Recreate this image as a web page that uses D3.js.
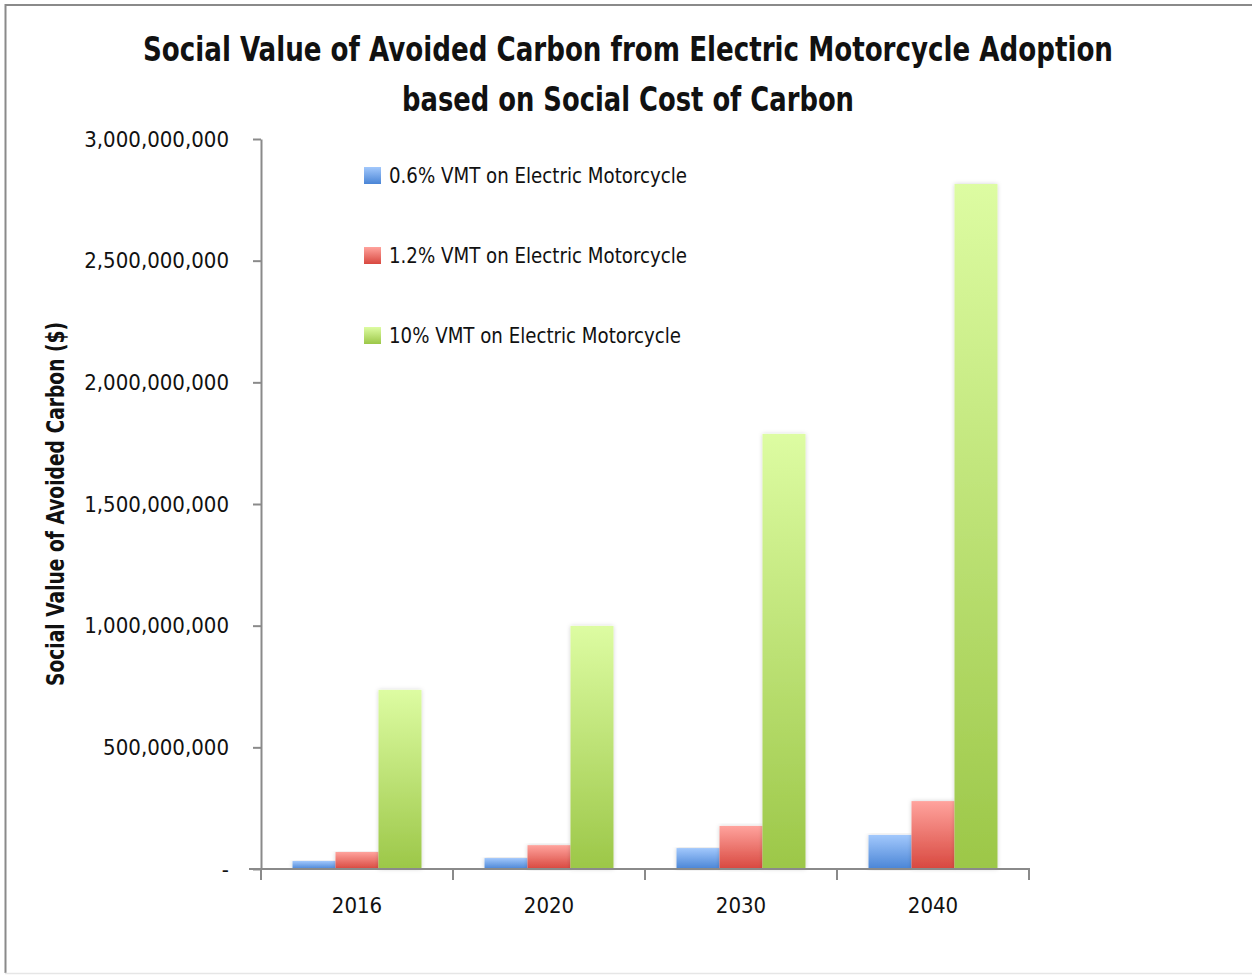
<!DOCTYPE html>
<html>
<head>
<meta charset="utf-8">
<script src="https://cdn.jsdelivr.net/npm/d3@7"></script>
<style>
  body { margin: 0; background: #fff; }
  text { font-family: "Liberation Sans Narrow", "DejaVu Sans Condensed", "Roboto", sans-serif; fill: #111; }
</style>
</head>
<body>
<script>
var width = 1252, height = 975;

var years = ["2016", "2020", "2030", "2040"];
var seriesNames = ["0.6% VMT on Electric Motorcycle", "1.2% VMT on Electric Motorcycle", "10% VMT on Electric Motorcycle"];
var low = [33000000, 45000000, 86000000, 140000000];
var mid = [70000000, 98000000, 177000000, 279000000];
var high = [736000000, 999000000, 1788000000, 2815000000];
var yTicks = [0, 500000000, 1000000000, 1500000000, 2000000000, 2500000000, 3000000000];

var seriesValues = [low, mid, high];
var colorsTop = ["#a2c8fc", "#ffa39d", "#ddfca2"];
var colorsBottom = ["#4a85d6", "#d8483f", "#9cc748"];
var legendWidths = [298, 298, 292];

var svg = d3.select("body").append("svg")
    .attr("width", width)
    .attr("height", height);

// outer frame
svg.append("path")
    .attr("d", "M1252,5 H5.5 V973")
    .attr("fill", "none")
    .attr("stroke", "#8a8a8a")
    .attr("stroke-width", 2);
svg.append("line")
    .attr("x1", 5).attr("x2", 1252).attr("y1", 973.5).attr("y2", 973.5)
    .attr("stroke", "#e6e6e6").attr("stroke-width", 1.5);

var defs = svg.append("defs");
seriesNames.forEach(function(s, i) {
    var grad = defs.append("linearGradient")
        .attr("id", "grad" + i)
        .attr("x1", 0).attr("x2", 0).attr("y1", 0).attr("y2", 1);
    grad.append("stop").attr("offset", "0%").attr("stop-color", colorsTop[i]);
    grad.append("stop").attr("offset", "100%").attr("stop-color", colorsBottom[i]);
});
var shadow = defs.append("filter").attr("id", "shadow")
    .attr("x", "-20%").attr("y", "-5%").attr("width", "140%").attr("height", "110%");
shadow.append("feDropShadow")
    .attr("dx", 0).attr("dy", 0).attr("stdDeviation", 2)
    .attr("flood-color", "#000").attr("flood-opacity", 0.18);

var margin = {left: 261, right: 1029, top: 139, bottom: 869};

var y = d3.scaleLinear()
    .domain([0, 3000000000])
    .range([margin.bottom, margin.top]);

var x = d3.scaleBand()
    .domain(years)
    .range([margin.left, margin.right]);

var xInner = d3.scaleBand()
    .domain(d3.range(seriesNames.length))
    .range([0, x.bandwidth()])
    .paddingOuter(0.733)
    .paddingInner(0);

// title
var title = svg.append("g");
title.append("text")
    .attr("x", 628).attr("y", 61)
    .attr("text-anchor", "middle")
    .attr("font-size", 33).attr("font-weight", "bold")
    .attr("textLength", 970).attr("lengthAdjust", "spacingAndGlyphs")
    .text("Social Value of Avoided Carbon from Electric Motorcycle Adoption");
title.append("text")
    .attr("x", 628).attr("y", 111)
    .attr("text-anchor", "middle")
    .attr("font-size", 33).attr("font-weight", "bold")
    .attr("textLength", 452).attr("lengthAdjust", "spacingAndGlyphs")
    .text("based on Social Cost of Carbon");

// y axis
var fmt = d3.format(",");
var yAxis = d3.axisLeft(y)
    .tickValues(yTicks)
    .tickSizeInner(8)
    .tickSizeOuter(0)
    .tickPadding(24)
    .tickFormat(function(d) { return d === 0 ? "-" : fmt(d); });

var gy = svg.append("g")
    .attr("transform", "translate(" + margin.left + ",0)")
    .call(yAxis);
gy.select(".domain").attr("stroke", "#8a8a8a").attr("stroke-width", 2);
gy.selectAll(".tick line").attr("stroke", "#8a8a8a").attr("stroke-width", 2);
gy.selectAll(".tick text")
    .attr("font-size", 22)
    .attr("font-family", "Liberation Sans Narrow, DejaVu Sans Condensed, sans-serif")
    .attr("fill", "#111");

svg.append("text")
    .attr("transform", "translate(64," + 504 + ") rotate(-90)")
    .attr("text-anchor", "middle")
    .attr("font-size", 24).attr("font-weight", "bold")
    .attr("textLength", 364).attr("lengthAdjust", "spacingAndGlyphs")
    .text("Social Value of Avoided Carbon ($)");

// bars
var groups = svg.append("g").selectAll("g")
    .data(years)
    .enter().append("g")
    .attr("transform", function(d) { return "translate(" + x(d) + ",0)"; });

groups.selectAll("rect")
    .data(function(d, i) {
        return seriesValues.map(function(vals, s) { return {s: s, v: vals[i]}; });
    })
    .enter().append("rect")
    .attr("x", function(d) { return xInner(d.s); })
    .attr("width", xInner.bandwidth())
    .attr("y", function(d) { return y(d.v); })
    .attr("height", function(d) { return y(0) - y(d.v); })
    .attr("fill", function(d) { return "url(#grad" + d.s + ")"; })
    .attr("filter", "url(#shadow)");

// x axis
var xAxis = d3.axisBottom(x)
    .tickSizeInner(0)
    .tickSizeOuter(0)
    .tickPadding(28);

var gx = svg.append("g")
    .attr("transform", "translate(0," + margin.bottom + ")")
    .call(xAxis);
gx.select(".domain").remove();
gx.selectAll(".tick text")
    .attr("font-size", 22)
    .attr("font-family", "Liberation Sans Narrow, DejaVu Sans Condensed, sans-serif")
    .attr("fill", "#111");

gx.append("line")
    .attr("x1", margin.left - 12).attr("x2", margin.right + 1)
    .attr("y1", 0).attr("y2", 0)
    .attr("stroke", "#8a8a8a").attr("stroke-width", 2);

var boundaries = years.map(function(d) { return x(d); }).concat([x.range()[1]]);
gx.selectAll(".bound")
    .data(boundaries)
    .enter().append("line")
    .attr("class", "bound")
    .attr("x1", function(d) { return d; }).attr("x2", function(d) { return d; })
    .attr("y1", 0).attr("y2", 11)
    .attr("stroke", "#8a8a8a").attr("stroke-width", 2);

// legend
var legend = svg.append("g").selectAll("g")
    .data(seriesNames)
    .enter().append("g")
    .attr("transform", function(d, i) { return "translate(364," + (175 + i * 80) + ")"; });

legend.append("rect")
    .attr("x", 0).attr("y", -8)
    .attr("width", 17).attr("height", 17)
    .attr("fill", function(d, i) { return "url(#grad" + i + ")"; });

legend.append("text")
    .attr("x", 25).attr("y", 8)
    .attr("font-size", 22)
    .attr("textLength", function(d, i) { return legendWidths[i]; })
    .attr("lengthAdjust", "spacingAndGlyphs")
    .text(function(d) { return d; });
</script>
</body>
</html>
